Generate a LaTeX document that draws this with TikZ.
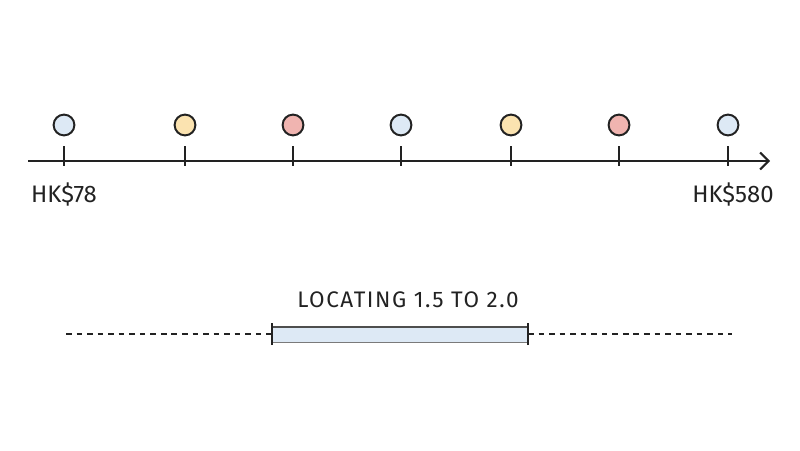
\documentclass[tikz,border=0pt]{standalone}
\usepackage{fontspec}
\setmainfont{Fira Sans}
\usetikzlibrary{positioning, arrows.meta}

\definecolor{dotblue}{HTML}{DDE9F5}
\definecolor{dotyellow}{HTML}{FBE3B0}
\definecolor{dotred}{HTML}{F0B4B0}
\definecolor{inkgray}{HTML}{222222}

\begin{document}
\begin{tikzpicture}[
        dot/.style={
            circle, draw=inkgray, line width=1.4pt, minimum size=0.52cm, inner sep=0pt
        },
        price/.style={font=\fontsize{17}{20}\selectfont, text=inkgray},
        axis/.style={-{Straight Barb[length=6pt, width=12pt]}, line width=1.4pt, draw=inkgray},
        tick/.style={line width=1.4pt, draw=inkgray},
        gap/.style={dashed, dash pattern=on 4pt off 3.5pt, line width=1.1pt, draw=inkgray}
    ]
        \useasboundingbox (0,0) rectangle (20,11.25);

        % Axis
        \coordinate (start) at (0.7,7.225);
        \coordinate (end) at (19.25,7.225);
        \draw[axis] (start) -- (end);

        % Tick marks on the axis
        \coordinate (t1) at (1.6,7.225);
        \coordinate (t2) at (4.625,7.225);
        \coordinate (t3) at (7.325,7.225);
        \coordinate (t4) at (10.025,7.225);
        \coordinate (t5) at (12.775,7.225);
        \coordinate (t6) at (15.475,7.225);
        \coordinate (t7) at (18.2,7.225);
        \draw[tick] ([yshift=-0.125cm]t1) -- ([yshift=0.375cm]t1);
        \draw[tick] ([yshift=-0.125cm]t2) -- ([yshift=0.375cm]t2);
        \draw[tick] ([yshift=-0.125cm]t3) -- ([yshift=0.375cm]t3);
        \draw[tick] ([yshift=-0.125cm]t4) -- ([yshift=0.375cm]t4);
        \draw[tick] ([yshift=-0.125cm]t5) -- ([yshift=0.375cm]t5);
        \draw[tick] ([yshift=-0.125cm]t6) -- ([yshift=0.375cm]t6);
        \draw[tick] ([yshift=-0.125cm]t7) -- ([yshift=0.375cm]t7);

        % Dots above the ticks
        \node[dot, fill=dotblue, above=0.9cm of t1, anchor=center] (d1) {};
        \node[dot, fill=dotyellow, above=0.9cm of t2, anchor=center] (d2) {};
        \node[dot, fill=dotred, above=0.9cm of t3, anchor=center] (d3) {};
        \node[dot, fill=dotblue, above=0.9cm of t4, anchor=center] (d4) {};
        \node[dot, fill=dotyellow, above=0.9cm of t5, anchor=center] (d5) {};
        \node[dot, fill=dotred, above=0.9cm of t6, anchor=center] (d6) {};
        \node[dot, fill=dotblue, above=0.9cm of t7, anchor=center] (d7) {};

        % Price labels
        \node[price, below=0.85cm of t1, anchor=center] (low) {HK\$78};
        \node[price, below=0.85cm of t7, anchor=center, xshift=0.125cm] (high) {HK\$580};

        % Range bar
        \node[font=\fontsize{16}{19}\selectfont\addfontfeature{LetterSpace=7}, text=inkgray] (title) at (10.2,3.75) {LOCATING 1.5 TO 2.0};
        \coordinate (barL) at (6.8,2.9);
        \coordinate (barR) at (13.2,2.9);
        \coordinate (gapL) at (1.65,2.9);
        \coordinate (gapR) at (18.3,2.9);
        \fill[dotblue] (6.8,2.7) rectangle (13.2,3.075);
        \draw[line width=1.5pt, draw=inkgray!80] (6.8,3.075) -- (13.2,3.075);
        \draw[line width=0.6pt, draw=inkgray!60] (6.8,2.7) -- (13.2,2.7);
        \draw[tick] ([yshift=-0.275cm]barL) -- ([yshift=0.275cm]barL);
        \draw[tick] ([yshift=-0.275cm]barR) -- ([yshift=0.275cm]barR);
        \draw[gap] (gapL) -- (barL);
        \draw[gap] (barR) -- (gapR);

    \end{tikzpicture}
\end{document}
